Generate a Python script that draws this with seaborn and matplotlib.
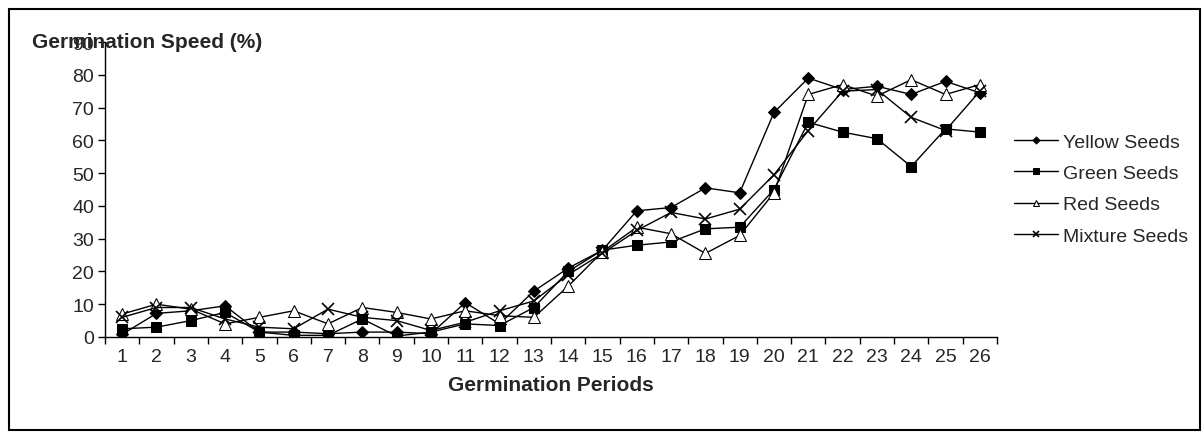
import numpy as np
import pandas as pd
import seaborn as sns
import matplotlib.pyplot as plt
from matplotlib.patches import Rectangle

# ----------------------------------------------------------------------------
# data
# ----------------------------------------------------------------------------
periods = list(range(1, 27))

yellow_seeds = [0.8, 7.2, 8, 9.5, 1.5, 1.5, 1, 1.5, 1.5, 1,
                10.5, 4, 14, 21, 26.5, 38.5, 39.5, 45.5, 44, 68.5,
                79, 75.5, 76.5, 74, 78, 74.5]
green_seeds = [2.5, 3, 5, 7.5, 1.5, 0.5, 0.5, 5.5, 0.3, 1.5,
               4, 3.5, 9, 20, 26.5, 28, 29, 33, 33.5, 45,
               65.5, 62.5, 60.5, 52, 63.5, 62.5]
red_seeds = [7, 10, 8.5, 4, 6, 8, 4, 9, 7.5, 5.5,
             8, 6.5, 6, 15.5, 26, 33.5, 31.5, 25.5, 31, 44,
             74, 77, 73.5, 78.5, 74, 77]
mixture_seeds = [6, 9, 9, 5.5, 3, 2.5, 8.5, 6, 5, 2,
                 4.5, 8, 11, 19, 25.5, 32.5, 38, 36, 39, 49.5,
                 63, 75, 75.5, 67, 63, 75]

series_names = ["Yellow Seeds", "Green Seeds", "Red Seeds", "Mixture Seeds"]
y_ticks = [0, 10, 20, 30, 40, 50, 60, 70, 80, 90]

# ----------------------------------------------------------------------------
# plot
# ----------------------------------------------------------------------------
sns.set_style("white")
plt.rcParams['font.family'] = ['Liberation Sans', 'DejaVu Sans']

fig = plt.figure(figsize=(12.02, 4.35), dpi=100)
W, H = 1202, 435
ax = fig.add_axes([105 / W, 1 - 338 / H, (997 - 105) / W, (338 - 43) / H])

styles = {
    "Yellow Seeds": dict(marker="D", markersize=6, markerfacecolor="black"),
    "Green Seeds": dict(marker="s", markersize=6.5, markerfacecolor="black"),
    "Red Seeds": dict(marker="^", markersize=8, markerfacecolor="white"),
    "Mixture Seeds": dict(marker="x", markersize=8, markeredgewidth=1.2),
}

for name, values in zip(series_names, [yellow_seeds, green_seeds, red_seeds, mixture_seeds]):
    sns.lineplot(x=periods, y=values, ax=ax, color="black", linewidth=1.0,
                 markeredgecolor="black", label=name, **styles[name])

# axes styling, excel like
ax.set_ylim(0, 90)
ax.set_yticks(y_ticks)
ax.set_xlim(0.5, 26.5)
ax.set_xticks(np.arange(0.5, 27, 1))
ax.set_xticklabels([])
ax.set_xticks(periods, minor=True)
ax.set_xticklabels([str(p) for p in periods], minor=True)
ax.tick_params(axis="x", which="major", direction="out", length=5, width=1, color="black")
ax.tick_params(axis="x", which="minor", length=0, pad=8, labelsize=14)
ax.tick_params(axis="y", direction="out", length=5, width=1, color="black", labelsize=14, pad=3)
ax.tick_params(left=True, bottom=True)

for side in ["top", "right"]:
    ax.spines[side].set_visible(False)
for side in ["left", "bottom"]:
    ax.spines[side].set_color("black")
    ax.spines[side].set_linewidth(1)

ax.set_xlabel("")
ax.set_ylabel("")

# titles
fig.text(32 / W, 1 - 43 / H, "Germination Speed (%)", fontsize=15, fontweight="bold",
         ha="left", va="center")
fig.text(551 / W, 1 - 386 / H, "Germination Periods", fontsize=15, fontweight="bold",
         ha="center", va="center")

# legend
handles, labels = ax.get_legend_handles_labels()
ax.get_legend().remove()
fig.legend(handles, labels, loc="center left", bbox_to_anchor=(1006 / W, 1 - 190 / H),
           frameon=False, fontsize=14, handlelength=2.25, handletextpad=0.3,
           labelspacing=0.7, markerscale=0.6, borderaxespad=0)

# chart area border
fig.add_artist(Rectangle((9 / W, 4 / H), (1200 - 9) / W, (425 - 4) / H,
                         transform=fig.transFigure, fill=False,
                         edgecolor="black", linewidth=1.5))

fig.savefig("out.png", dpi=100)
